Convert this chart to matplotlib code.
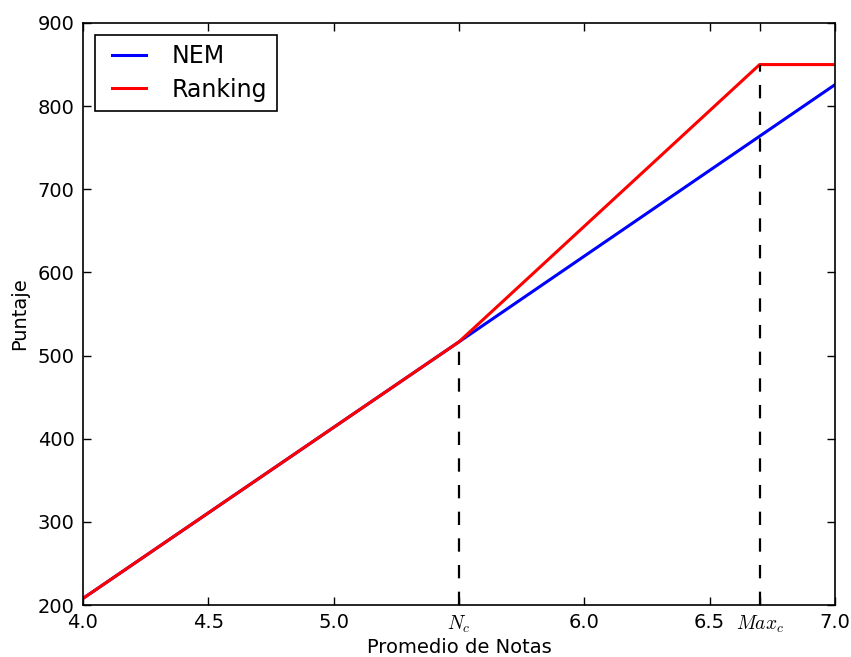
import matplotlib
matplotlib.use("Agg")
import matplotlib.pyplot as plt
from matplotlib.legend_handler import HandlerLine2D

plt.rcParams['mathtext.fontset'] = 'cm'

nem_x = [4.0, 5.5, 7.0]
nem_y = [208, 516.5, 825.7]
rank_x = [4.0, 5.5, 6.7, 7.0]
rank_y = [208, 516.5, 850, 850]
nc = 5.5
maxc = 6.7
xticks = [4.0, 4.5, 5.0, nc, 6.0, 6.5, maxc, 7.0]
xticklabels = ['4.0', '4.5', '5.0', r'$N_c$', '6.0', '6.5', r'$Max_c$', '7.0']
yticks = [200, 300, 400, 500, 600, 700, 800, 900]

fig = plt.figure(figsize=(8.51, 6.57), dpi=100)
ax = fig.add_axes([0.0975, 0.079, 0.8835, 0.886])
l1, = ax.plot(nem_x, nem_y, color='#0000ff', lw=2.2, label='NEM')
l2, = ax.plot(rank_x, rank_y, color='#ff0000', lw=2.2, label='Ranking')
ax.plot([nc, nc], [200, 516.5], 'k--', lw=1.6, dashes=(6, 6))
ax.plot([maxc, maxc], [200, 850], 'k--', lw=1.6, dashes=(6, 6))
ax.set_xlim(4.0, 7.0)
ax.set_ylim(200, 900)
ax.set_xticks(xticks)
ax.set_xticklabels(xticklabels)
ax.set_yticks(yticks)
ax.tick_params(direction='in', top=True, right=True, length=6, width=1, labelsize=14, pad=6)
for s in ax.spines.values():
    s.set_linewidth(1.2)
ax.set_xlabel('Promedio de Notas', fontsize=14, labelpad=2)
ax.set_ylabel('Puntaje', fontsize=14, labelpad=6)
hm = {l1: HandlerLine2D(xpad=0.32), l2: HandlerLine2D(xpad=0.32)}
leg = ax.legend(loc='upper left', fontsize=17, fancybox=False, framealpha=1,
                edgecolor='black', handlelength=1.76, borderpad=0.4, labelspacing=0.4,
                handletextpad=1.1, borderaxespad=0.5, handler_map=hm)
leg.get_frame().set_linewidth(1.2)
fig.savefig('out.png', dpi=100)
